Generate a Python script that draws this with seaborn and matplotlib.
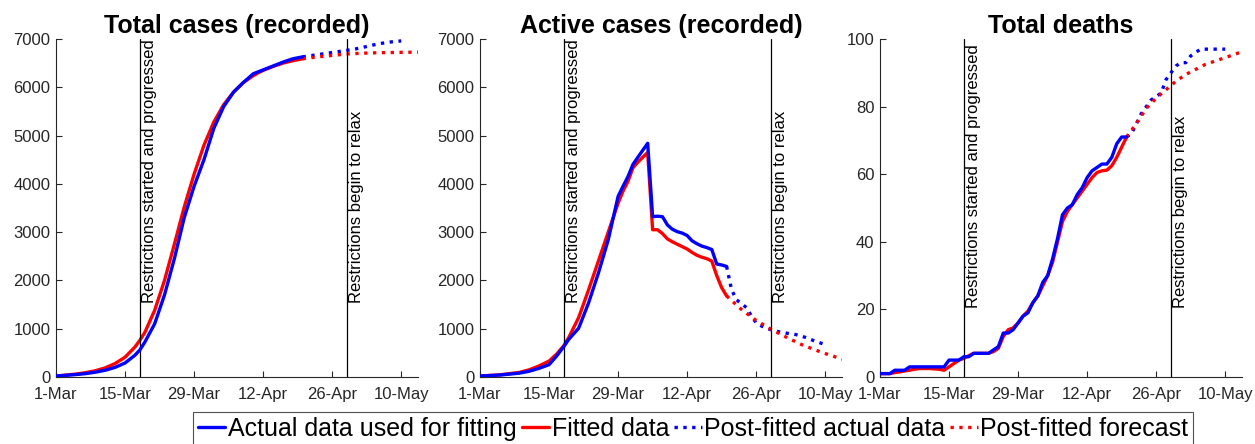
import numpy as np
import pandas as pd
import matplotlib
matplotlib.use('Agg')
import matplotlib.pyplot as plt
import seaborn as sns

# x axis: days since 1-Mar
tick_days = [0, 14, 28, 42, 56, 70]
tick_labels = ['1-Mar', '15-Mar', '29-Mar', '12-Apr', '26-Apr', '10-May']
restrict_start_day = 17
restrict_relax_day = 59

titles = ['Total cases (recorded)', 'Active cases (recorded)', 'Total deaths']
legend_labels = ['Actual data used for fitting', 'Fitted data',
                 'Post-fitted actual data', 'Post-fitted forecast']

# ---- Total cases ----
cases_fit_days = [0, 2, 4, 6, 8, 10, 12, 14, 16, 17, 18, 20, 22, 24, 26, 28, 30, 32, 34,
                  36, 38, 40, 41, 42, 44, 46, 48, 50]
cases_actual = [20, 35, 50, 70, 100, 140, 200, 290, 450, 560, 720, 1100, 1700, 2450, 3300,
                3950, 4500, 5150, 5600, 5900, 6100, 6280, 6320, 6360, 6440, 6520, 6590, 6630]
cases_fitted = [20, 40, 60, 90, 130, 190, 280, 410, 620, 760, 920, 1380, 2000, 2750, 3520,
                4200, 4800, 5280, 5640, 5900, 6100, 6240, 6300, 6350, 6430, 6500, 6550, 6590]
cases_post_days = [50, 52, 54, 56, 58, 60, 62, 64, 66, 68, 70]
cases_post_actual = [6630, 6660, 6690, 6720, 6750, 6780, 6820, 6870, 6910, 6940, 6960]
cases_fc_days = [50, 53, 56, 59, 62, 65, 68, 71, 73.5]
cases_forecast = [6590, 6630, 6660, 6690, 6705, 6715, 6720, 6725, 6727]

# ---- Active cases ----
active_fit_days = [0, 4, 8, 10, 12, 14, 15.5, 17, 18, 20, 22, 24, 26, 28, 29, 30, 31, 32,
                   34, 35, 36, 37, 38, 39, 40, 41, 42, 43, 44, 45, 46, 47, 48, 49, 50]
active_actual = [20, 40, 80, 120, 180, 255, 430, 630, 780, 1010, 1530, 2150, 2840, 3740,
                 3950, 4150, 4400, 4550, 4840, 3320, 3330, 3320, 3150, 3060, 3010, 2980,
                 2930, 2820, 2760, 2710, 2680, 2640, 2340, 2320, 2290]
active_fitted = [20, 45, 95, 150, 230, 330, 470, 650, 820, 1230, 1800, 2400, 3000, 3600,
                 3850, 4050, 4330, 4450, 4650, 3050, 3050, 2970, 2860, 2800, 2750, 2700,
                 2650, 2580, 2520, 2480, 2450, 2400, 2100, 1850, 1680]
active_post_days = [50, 51, 52, 53, 54, 55, 56, 57, 58, 59, 60, 62, 64, 66, 68, 70]
active_post_actual = [2290, 1810, 1600, 1520, 1440, 1270, 1120, 1060, 1010, 980, 950,
                      910, 880, 820, 740, 670]
active_fc_days = [50, 53, 56, 59, 62, 65, 68, 71, 73.5]
active_forecast = [1680, 1400, 1170, 990, 830, 680, 560, 450, 370]

# ---- Total deaths ----
deaths_fit_days = list(range(0, 51))
deaths_actual = [1, 1, 1, 2, 2, 2, 3, 3, 3, 3, 3, 3, 3, 3, 5, 5, 5, 6, 6, 7, 7, 7, 7, 8,
                 9, 13, 13, 14, 16, 18, 19, 22, 24, 28, 30, 35, 41, 48, 50, 51, 54, 56,
                 59, 61, 62, 63, 63, 65, 69, 71, 71]
deaths_fitted = [1, 1, 1, 1.3, 1.5, 1.8, 2, 2.3, 2.5, 2.5, 2.5, 2.4, 2.3, 2.0, 3, 4, 5,
                 5.5, 6.3, 7, 7, 7, 7, 7.5, 8.5, 12, 14, 14.5, 16, 18, 19.5, 22, 24, 27,
                 30, 34, 40, 46, 49, 51, 53, 55, 57, 59, 60.5, 61, 61.2, 62.5, 65, 68, 71]
deaths_post_days = list(range(50, 71))
deaths_post_actual = [71, 72, 75, 78, 80, 82, 83, 84, 88, 90, 92, 93, 93, 95, 96, 97, 97,
                      97, 97, 97, 97]
deaths_fc_days = [50, 52, 54, 56, 58, 60, 62, 64, 66, 68, 70, 72, 73.5]
deaths_forecast = [71, 75, 79.5, 82.5, 85, 87.5, 89.5, 91, 92.5, 93.5, 94.5, 95.5, 96.3]

panels = [
    (cases_fit_days, cases_actual, cases_fitted, cases_post_days, cases_post_actual,
     cases_fc_days, cases_forecast, 7000, 1000, 1530),
    (active_fit_days, active_actual, active_fitted, active_post_days, active_post_actual,
     active_fc_days, active_forecast, 7000, 1000, 1530),
    (deaths_fit_days, deaths_actual, deaths_fitted, deaths_post_days, deaths_post_actual,
     deaths_fc_days, deaths_forecast, 100, 20, 20.5),
]

sns.set_style('white')
plt.rcParams['font.family'] = ['Liberation Sans', 'DejaVu Sans']

fig = plt.figure(figsize=(12.55, 4.44), dpi=100)
lefts = [56 / 1255, 480 / 1255, 880 / 1255]
ax_w = 362 / 1255
ax_b = 1 - 377 / 444
ax_h = 338 / 444

lw = 2.4
for i, (fd, act, fit, pd_, pact, fcd, fc, ymax, ystep, txt_y) in enumerate(panels):
    ax = fig.add_axes([lefts[i], ax_b, ax_w, ax_h])
    sns.lineplot(x=fd, y=act, ax=ax, color='blue', lw=lw, label=legend_labels[0])
    sns.lineplot(x=fd, y=fit, ax=ax, color='red', lw=lw, label=legend_labels[1])
    sns.lineplot(x=pd_, y=pact, ax=ax, color='blue', lw=lw, ls=':', label=legend_labels[2])
    sns.lineplot(x=fcd, y=fc, ax=ax, color='red', lw=lw, ls=':', label=legend_labels[3])
    # actual data sits on top of the fit
    ax.get_lines()[0].set_zorder(3)
    ax.axvline(restrict_start_day, color='black', lw=0.9)
    ax.axvline(restrict_relax_day, color='black', lw=0.9)
    ax.text(restrict_start_day + 0.5, txt_y, 'Restrictions started and progressed',
            rotation=90, ha='left', va='bottom', fontsize=12, color='black')
    ax.text(restrict_relax_day + 0.5, txt_y, 'Restrictions begin to relax',
            rotation=90, ha='left', va='bottom', fontsize=12, color='black')
    ax.set_xlim(0, 73.4)
    ax.set_ylim(0, ymax)
    ax.set_yticks(np.arange(0, ymax + 1, ystep))
    ax.set_xticks(tick_days)
    ax.set_xticklabels(tick_labels)
    ax.tick_params(direction='in', length=4, width=0.8, labelsize=12,
                   colors='#262626', left=True, bottom=True)
    ax.tick_params(axis='x', pad=7)
    ax.tick_params(axis='y', pad=4)
    for s in ['top', 'right']:
        ax.spines[s].set_visible(False)
    for s in ['left', 'bottom']:
        ax.spines[s].set_color('#262626')
        ax.spines[s].set_linewidth(0.8)
    ax.set_title(titles[i], fontsize=18, fontweight='bold', pad=4, color='black')
    ax.set_xlabel('')
    ax.set_ylabel('')
    handles, labels = ax.get_legend_handles_labels()
    ax.get_legend().remove()

leg = fig.legend(handles, labels, loc='upper center', bbox_to_anchor=(693 / 1255, 1 - 412 / 444),
                 ncol=4, fontsize=18, frameon=True, fancybox=False, handlelength=1.1,
                 handletextpad=0.1, columnspacing=0.2, borderpad=0.2, borderaxespad=0,
                 labelcolor='black')
leg.get_frame().set_edgecolor('#262626')
leg.get_frame().set_linewidth(0.8)

fig.savefig('out.png', dpi=100)
